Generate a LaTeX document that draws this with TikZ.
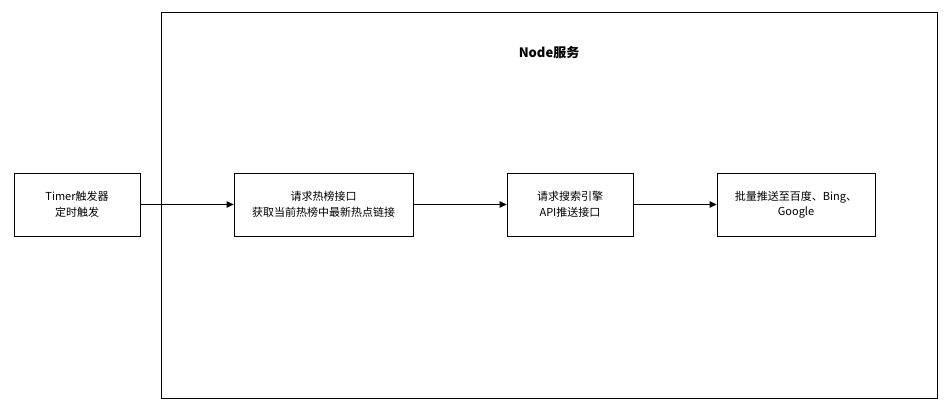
\documentclass[tikz,border=0pt]{standalone}
\usepackage{fontspec}
\setmainfont{Noto Sans CJK SC}
\usetikzlibrary{arrows.meta}
\begin{document}
\begin{tikzpicture}[x=1pt, y=-1pt, line width=0.8pt,
  every node/.style={font=\fontsize{11}{15.5}\selectfont},
  box/.style={draw, align=center, inner sep=0pt, minimum height=63pt},
  flow/.style={-{Triangle[length=7pt,width=6.5pt]}}]
\useasboundingbox (0,0) rectangle (944,411);
% Node service container
\node[draw, anchor=north west, inner sep=0pt, minimum width=776pt, minimum height=386pt] (svc) at (161,12) {};
\node[font=\bfseries\fontsize{13}{15}\selectfont] (title) at (549,53) {Node服务};
% steps
\node[box, minimum width=126pt] (timer) at (77,204.5) {Timer触发器\\定时触发};
\node[box, minimum width=179pt] (hot) at (323.5,204.5) {请求热榜接口\\获取当前热榜中最新热点链接};
\node[box, minimum width=126pt] (api) at (570,204.5) {请求搜索引擎\\API推送接口};
\node[box, minimum width=158pt] (push) at (796,204.5) {批量推送至百度、Bing、\\Google};
\draw[flow] (timer) -- (hot);
\draw[flow] (hot) -- (api);
\draw[flow] (api) -- (push);
\end{tikzpicture}
\end{document}
